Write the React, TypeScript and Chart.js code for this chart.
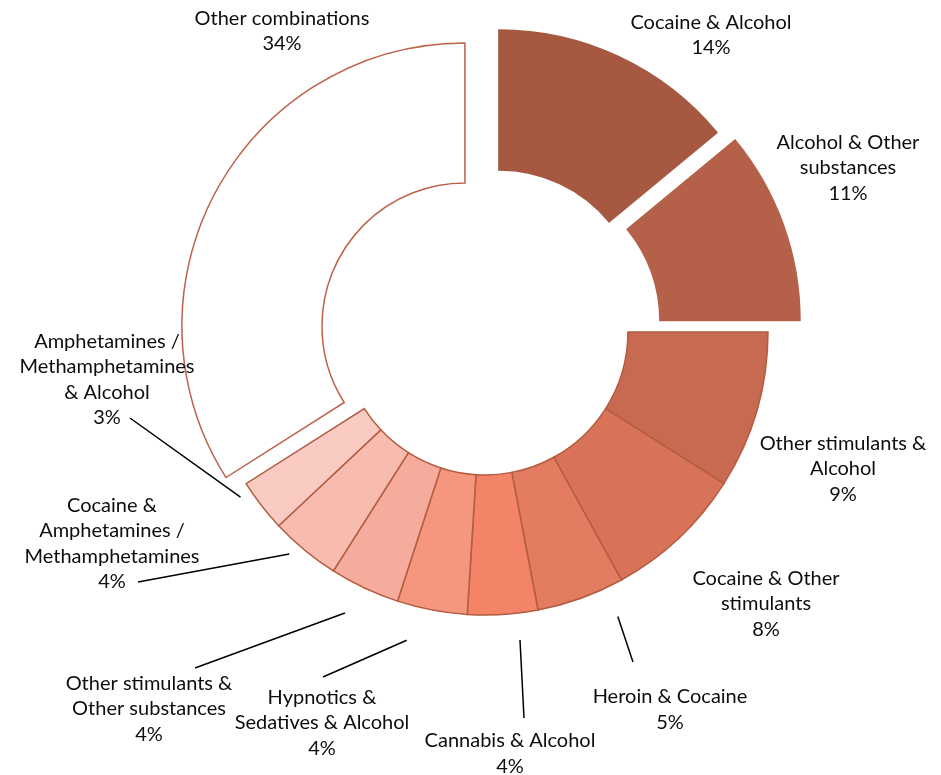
import React, { useEffect, useRef } from "react";
import { Chart, registerables, ArcElement, DoughnutController } from "chart.js";

// ---- data ----
const categories: string[][] = [
  ["Cocaine & Alcohol"],
  ["Alcohol & Other", "substances"],
  ["Other stimulants &", "Alcohol"],
  ["Cocaine & Other", "stimulants"],
  ["Heroin & Cocaine"],
  ["Cannabis & Alcohol"],
  ["Hypnotics &", "Sedatives & Alcohol"],
  ["Other stimulants &", "Other substances"],
  ["Cocaine &", "Amphetamines /", "Methamphetamines"],
  ["Amphetamines /", "Methamphetamines", "& Alcohol"],
  ["Other combinations"],
];
const shares: number[] = [14, 11, 9, 8, 5, 4, 4, 4, 4, 3, 34];

// ---- styles ----
const fillColors = [
  "#A65841", "#B5614A", "#C76A51", "#D8735A", "#E47C62", "#F38467",
  "#F5967F", "#F6AC9C", "#F8BCAF", "#F9CBC3", "#FFFFFF",
];
const borderColors = [
  "#A65841", "#B5614A", "#B35C40", "#B35C40", "#B35C40", "#B35C40",
  "#B35C40", "#B35C40", "#B35C40", "#B35C40", "#BD6249",
];
const explode = [23.6, 34, 0, 0, 0, 0, 0, 0, 0, 0, 21];
const explodeTurn = [11, 0, 0, 0, 0, 0, 0, 0, 0, 0, -12]; // degrees
// label block centre relative to chart centre
const labelPos: [number, number][] = [
  [226, -297], [363, -164], [358, 137], [281, 272], [185, 377.5], [25, 421.5],
  [-163, 391], [-336, 377], [-373, 211.5], [-378, 47.5], [-203, -301],
];
// leader lines: [from dx, from dy, fraction along slice, gap beyond outer radius]
const leaders: (null | [number, number, number, number])[] = [
  null, null, null, null,
  [148, 330, 0.21, 31],
  [39, 386, 0.3, 27],
  [-162, 345, 0.74, 35],
  [-290, 336, 0.59, 31],
  [-347, 250, 0.625, 13],
  [-355, 86, 0.85, 12],
  null,
];

class ExplodedArc extends ArcElement {
  static id = "explodedArc";
  static defaults = { ...(ArcElement as any).defaults, explodeTurn: 0 };
  draw(ctx: CanvasRenderingContext2D) {
    const self: any = this;
    const { x, y, startAngle, endAngle, innerRadius, outerRadius } = self;
    const options = self.options;
    const o = options.offset || 0;
    const mid = (startAngle + endAngle) / 2 + ((options.explodeTurn || 0) * Math.PI) / 180;
    ctx.save();
    ctx.translate(Math.cos(mid) * o, Math.sin(mid) * o);
    ctx.beginPath();
    ctx.arc(x, y, outerRadius, startAngle, endAngle);
    ctx.arc(x, y, innerRadius, endAngle, startAngle, true);
    ctx.closePath();
    ctx.fillStyle = options.backgroundColor;
    ctx.fill();
    if (options.borderWidth) {
      ctx.lineWidth = options.borderWidth;
      ctx.strokeStyle = options.borderColor;
      ctx.lineJoin = "miter";
      ctx.stroke();
    }
    ctx.restore();
  }
}

class ExplodedDoughnutController extends DoughnutController {
  static id = "explodedDoughnut";
  static defaults = { ...(DoughnutController as any).defaults, dataElementType: "explodedArc" };
}

Chart.register(...registerables, ExplodedArc as any, ExplodedDoughnutController as any);

const FONT = "20px Lato";
const LINE_H = 25.5;

const labelPlugin = {
  id: "sliceLabels",
  afterDatasetsDraw(chart: any) {
    const ctx: CanvasRenderingContext2D = chart.ctx;
    const meta = chart.getDatasetMeta(0);
    ctx.save();
    ctx.font = FONT;
    ctx.fillStyle = "#0d0d0d";
    ctx.textAlign = "center";
    ctx.textBaseline = "middle";
    meta.data.forEach((arc: any, i: number) => {
      const cx = arc.x, cy = arc.y;
      const lines = [...categories[i], shares[i] + "%"];
      const [dx, dy] = labelPos[i];
      const top = cy + dy - ((lines.length - 1) * LINE_H) / 2;
      lines.forEach((t, k) => ctx.fillText(t, cx + dx, top + k * LINE_H));
      const ld = leaders[i];
      if (ld) {
        const a = arc.startAngle + ld[2] * (arc.endAngle - arc.startAngle);
        const r = arc.outerRadius + ld[3];
        ctx.beginPath();
        ctx.moveTo(cx + ld[0], cy + ld[1]);
        ctx.lineTo(cx + Math.cos(a) * r, cy + Math.sin(a) * r);
        ctx.strokeStyle = "#000";
        ctx.lineWidth = 1.5;
        ctx.stroke();
      }
    });
    ctx.restore();
  },
};

export default function App() {
  const ref = useRef<HTMLCanvasElement>(null);
  useEffect(() => {
    if (!ref.current) return;
    const chart = new Chart(ref.current, {
      type: "explodedDoughnut" as any,
      data: {
        labels: categories.map((c) => c.join(" ")),
        datasets: [
          {
            data: shares,
            backgroundColor: fillColors,
            borderColor: borderColors,
            borderWidth: 1.5,
            offset: explode,
            explodeTurn: explodeTurn,
          } as any,
        ],
      },
      options: {
        animation: false,
        responsive: true,
        maintainAspectRatio: false,
        radius: 283,
        cutout: "50.5%",
        layout: { padding: { left: 29, right: 0, top: 0, bottom: 111 } },
        plugins: { legend: { display: false }, tooltip: { enabled: false } },
        events: [],
      } as any,
      plugins: [labelPlugin],
    });
    return () => chart.destroy();
  }, []);
  return (
    <div style={{ position: "fixed", left: 0, top: 0, width: 941, height: 775, background: "#fff" }}>
      <canvas ref={ref} />
    </div>
  );
}
